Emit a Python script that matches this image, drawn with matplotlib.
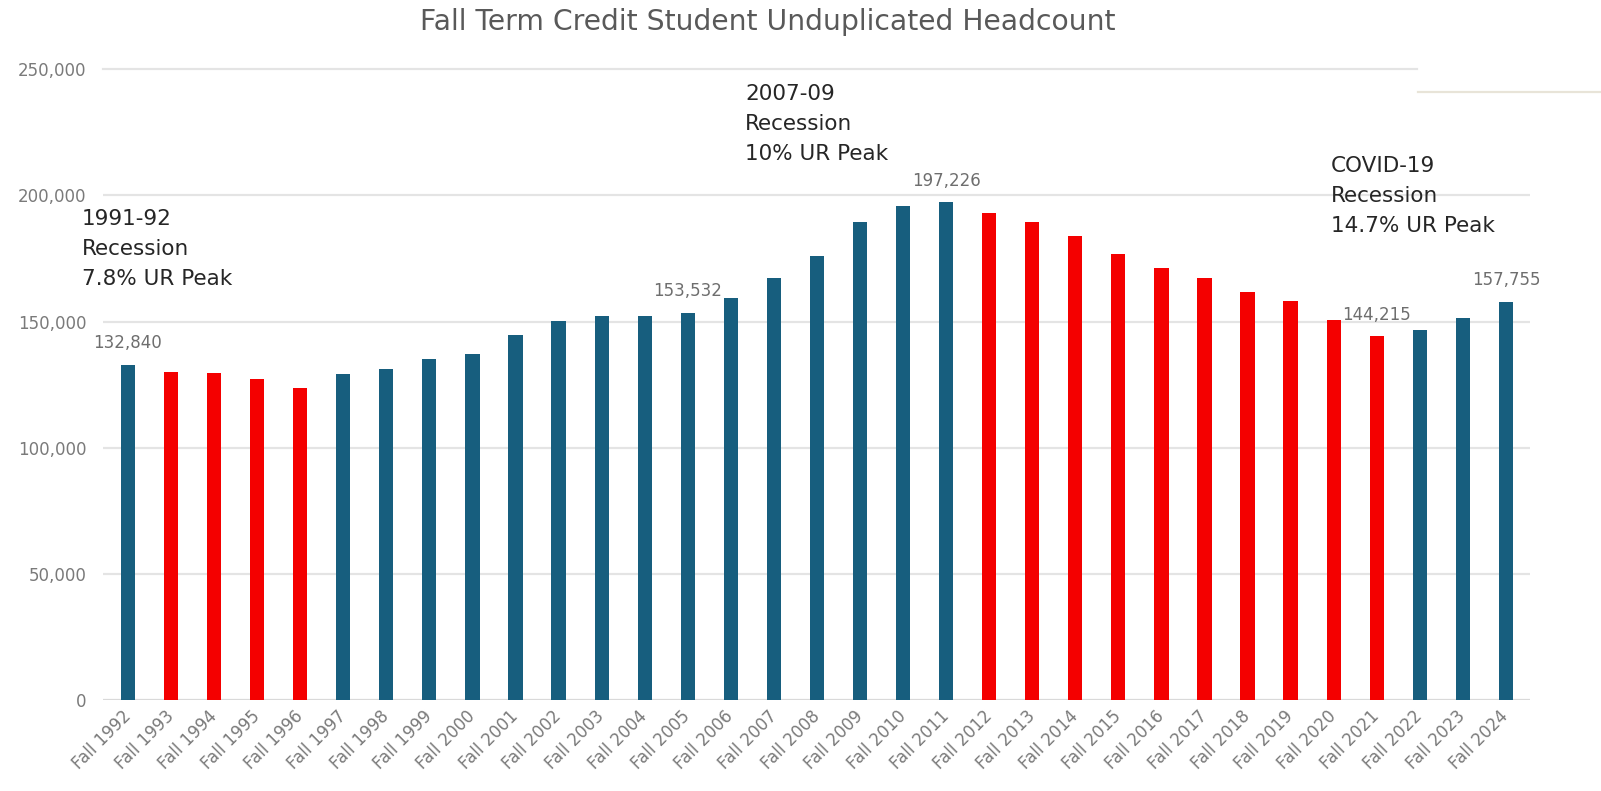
import matplotlib
matplotlib.use("Agg")
import matplotlib.pyplot as plt
from matplotlib.lines import Line2D
from matplotlib.ticker import FuncFormatter

plt.rcParams['font.family'] = ['DejaVu Sans']

years = [f"Fall {y}" for y in range(1992, 2025)]
headcount = [132840, 130070, 129440, 127290, 123480, 129160, 131140, 135110,
             136980, 144630, 150310, 152290, 152290, 153532, 159320, 167370,
             175860, 189350, 195700, 197226, 193040, 189350, 183790, 176770,
             171100, 167130, 161570, 158250, 150710, 144215, 146620, 151260,
             157755]
decline_years = ["Fall 1993", "Fall 1994", "Fall 1995", "Fall 1996",
                 "Fall 2012", "Fall 2013", "Fall 2014", "Fall 2015", "Fall 2016",
                 "Fall 2017", "Fall 2018", "Fall 2019", "Fall 2020", "Fall 2021"]
labeled_years = ["Fall 1992", "Fall 2005", "Fall 2011", "Fall 2021", "Fall 2024"]
yticks = [0, 50000, 100000, 150000, 200000, 250000]

title = "Fall Term Credit Student Unduplicated Headcount"
# (anchor category, horizontal offset in bars, baseline value of first line, lines)
notes = [("Fall 1992", -1.07, 188300, ["1991-92", "Recession", "7.8% UR Peak"]),
         ("Fall 2007", -0.67, 237800, ["2007-09", "Recession", "10% UR Peak"]),
         ("Fall 2020", -0.06, 209300, ["COVID-19", "Recession", "14.7% UR Peak"])]

BLUE = "#175e7e"
RED = "#f40000"
GRID = "#e4e4e4"
GRAY = "#7a7a7a"

W, H = 1601, 791
fig = plt.figure(figsize=(W / 100, H / 100), dpi=100)
ax = fig.add_axes([103 / W, 1 - 700 / H, (1530 - 103) / W, (700 - 69.3) / H])

x = list(range(len(years)))
colors = [RED if y in decline_years else BLUE for y in years]
ax.bar(x, headcount, width=0.33, color=colors, zorder=3)

ax.set_xlim(-0.58, len(years) - 1 + 0.56)
ax.set_ylim(0, 250000)
ax.set_yticks(yticks)
ax.yaxis.set_major_formatter(FuncFormatter(lambda v, p: f"{int(v):,}"))
ax.tick_params(axis='y', length=0, pad=12, labelsize=12, labelcolor=GRAY)
ax.tick_params(axis='x', length=0, pad=10, labelsize=12, labelcolor=GRAY)
ax.set_xticks(x)
ax.set_xticklabels(years, rotation=45, ha='right', va='center',
                   rotation_mode='anchor')

for s in ax.spines.values():
    s.set_visible(False)

for t in yticks:
    if t == 0:
        ax.axhline(t, color="#d9d9d9", lw=1.6, zorder=2)
    elif t == 250000:
        ax.axhline(t, xmin=0, xmax=0.921, color=GRID, lw=1.6, zorder=1, clip_on=False)
    else:
        ax.axhline(t, color=GRID, lw=1.6, zorder=1)

for xi, y, v in zip(x, years, headcount):
    if y in labeled_years:
        ax.annotate(f"{v:,}", (xi, v), xytext=(0, 12), textcoords='offset points',
                    ha='center', va='baseline', fontsize=12, color="#6e6e6e")

for yr, dx, yv, lines in notes:
    xi = years.index(yr) + dx
    for k, line in enumerate(lines):
        ax.annotate(line, (xi, yv), xytext=(0, -30 * k), textcoords='offset pixels',
                    ha='left', va='baseline', fontsize=15.5, color="#262626",
                    annotation_clip=False)

fig.text(768 / W, 1 - 30 / H, title, ha='center', va='baseline', fontsize=20.3,
         color="#595959")

fig.add_artist(Line2D([1418 / W, 1.0], [1 - 91.7 / H] * 2, transform=fig.transFigure,
                      color="#e8e4d8", lw=1.6))

fig.savefig("out.png", dpi=100, facecolor="white")
